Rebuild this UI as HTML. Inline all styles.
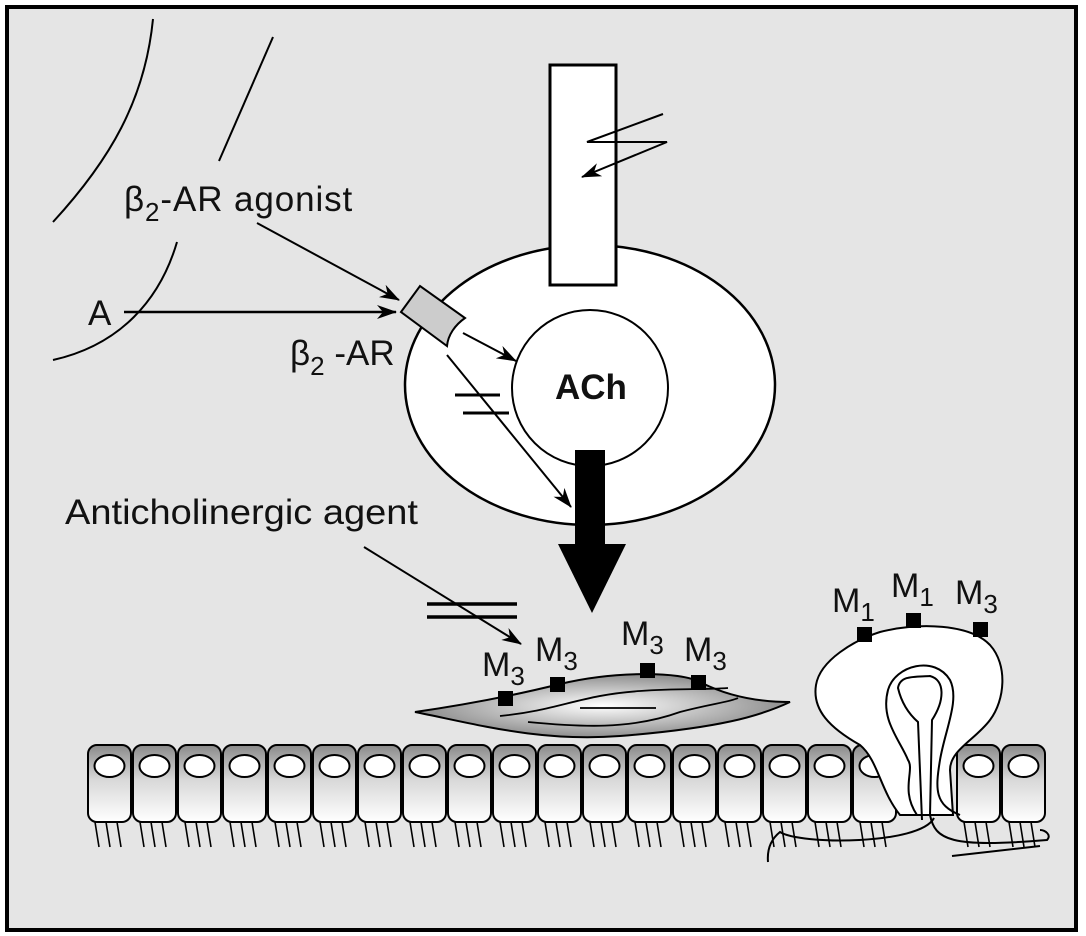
<!DOCTYPE html>
<html><head><meta charset="utf-8"><style>
html,body{margin:0;padding:0;background:#fff}
svg{display:block}
text{font-family:"Liberation Sans",sans-serif;fill:#111}
</style></head><body>
<svg width="1086" height="936" viewBox="0 0 1086 936" xmlns="http://www.w3.org/2000/svg">
<defs>
<linearGradient id="cg" x1="0" y1="0" x2="0" y2="1">
<stop offset="0" stop-color="#8a8a8a"/><stop offset="0.45" stop-color="#d8d8d8"/><stop offset="1" stop-color="#ffffff"/>
</linearGradient>
<radialGradient id="mg" cx="0.5" cy="0.5" r="0.6">
<stop offset="0" stop-color="#ffffff"/><stop offset="1" stop-color="#777"/>
</radialGradient>
<marker id="ah" markerWidth="20" markerHeight="14" refX="19" refY="7" orient="auto" markerUnits="userSpaceOnUse">
<path d="M0,0 L20,7 L0,14 L6,7 Z" fill="#000"/>
</marker>
<g id="cell">
<rect x="1" y="0" width="43" height="77" rx="9" fill="url(#cg)" stroke="#000" stroke-width="2"/>
<ellipse cx="22.5" cy="21" rx="15" ry="11" fill="#fff" stroke="#000" stroke-width="2"/>
<path d="M8,77 L12,102 M19,77 L23,102 M30,77 L34,102" stroke="#000" stroke-width="1.6" fill="none"/>
</g>
</defs>
<rect x="7" y="7" width="1069" height="923" fill="#e5e5e5" stroke="#000" stroke-width="4"/>

<path d="M153,19 C145,100 110,160 53,222" fill="none" stroke="#000" stroke-width="2"/>
<path d="M273,37 L219,161" fill="none" stroke="#000" stroke-width="2"/>
<path d="M177,242 C160,300 120,345 53,360" fill="none" stroke="#000" stroke-width="2"/>

<ellipse cx="590" cy="385" rx="185" ry="140" fill="#fff" stroke="#000" stroke-width="2.5"/>
<circle cx="590" cy="388" r="78" fill="#fff" stroke="#000" stroke-width="2"/>
<text x="555" y="399" font-size="35" font-weight="bold">ACh</text>

<rect x="550" y="65" width="66" height="220" fill="#fff" stroke="#000" stroke-width="3"/>
<polyline points="663,114 587,142 667,142 582,177" fill="none" stroke="#000" stroke-width="2" marker-end="url(#ah)"/>

<rect x="575" y="450" width="30" height="96" fill="#000"/>
<polygon points="558,544 626,544 592,613" fill="#000"/>

<path d="M401,312 L420,286 L465,318 C455,325 448,335 447,346 Z" fill="#ccc" stroke="#000" stroke-width="2"/>

<line x1="257" y1="223" x2="399" y2="300" stroke="#000" stroke-width="2" marker-end="url(#ah)"/>
<line x1="124" y1="312" x2="396" y2="312" stroke="#000" stroke-width="2.5" marker-end="url(#ah)"/>
<line x1="463" y1="333" x2="516" y2="361" stroke="#000" stroke-width="2" marker-end="url(#ah)"/>
<line x1="447" y1="355" x2="571" y2="507" stroke="#000" stroke-width="2" marker-end="url(#ah)"/>
<line x1="455" y1="395" x2="500" y2="395" stroke="#000" stroke-width="3"/>
<line x1="463" y1="413" x2="509" y2="413" stroke="#000" stroke-width="3"/>
<line x1="364" y1="547" x2="521" y2="644" stroke="#000" stroke-width="2" marker-end="url(#ah)"/>
<line x1="427" y1="604" x2="517" y2="604" stroke="#000" stroke-width="3.5"/>
<line x1="427" y1="617" x2="517" y2="617" stroke="#000" stroke-width="3.5"/>

<text x="124" y="211" font-size="35" letter-spacing="0.9">β<tspan font-size="26" dy="10">2</tspan><tspan dy="-10">-AR agonist</tspan></text>
<text x="88" y="325" font-size="35">A</text>
<text x="290" y="365" font-size="35">β<tspan font-size="26" dy="10">2</tspan><tspan dy="-10"> -AR</tspan></text>
<text x="65" y="524" font-size="35" textLength="353" lengthAdjust="spacingAndGlyphs">Anticholinergic agent</text>

<use href="#cell" x="87" y="745"/><use href="#cell" x="132" y="745"/><use href="#cell" x="177" y="745"/>
<use href="#cell" x="222" y="745"/><use href="#cell" x="267" y="745"/><use href="#cell" x="312" y="745"/>
<use href="#cell" x="357" y="745"/><use href="#cell" x="402" y="745"/><use href="#cell" x="447" y="745"/>
<use href="#cell" x="492" y="745"/><use href="#cell" x="537" y="745"/><use href="#cell" x="582" y="745"/>
<use href="#cell" x="627" y="745"/><use href="#cell" x="672" y="745"/><use href="#cell" x="717" y="745"/>
<use href="#cell" x="762" y="745"/><use href="#cell" x="807" y="745"/><use href="#cell" x="852" y="745"/>
<use href="#cell" x="956" y="745"/><use href="#cell" x="1001" y="745"/>

<path d="M415,712 C470,704 520,694 560,684 C610,672 680,670 702,683 C730,697 760,702 790,702 C760,716 720,728 620,736 C540,742 480,725 415,712 Z" fill="url(#mg)" stroke="#000" stroke-width="2"/>
<path d="M500,716 C560,710 580,695 640,691 C680,688 700,690 728,688" fill="none" stroke="#000" stroke-width="1.8"/>
<path d="M528,722 C580,727 630,730 680,712 C710,704 730,702 738,698" fill="none" stroke="#000" stroke-width="1.8"/>
<line x1="580" y1="708" x2="656" y2="708" stroke="#000" stroke-width="1.8"/>
<rect x="498" y="691" width="15" height="15" fill="#000"/>
<rect x="550" y="677" width="15" height="15" fill="#000"/>
<rect x="640" y="663" width="15" height="15" fill="#000"/>
<rect x="691" y="675" width="15" height="15" fill="#000"/>
<text x="482" y="676" font-size="34">M<tspan font-size="26" dy="9">3</tspan></text>
<text x="535" y="661" font-size="34">M<tspan font-size="26" dy="9">3</tspan></text>
<text x="621" y="645" font-size="34">M<tspan font-size="26" dy="9">3</tspan></text>
<text x="684" y="661" font-size="34">M<tspan font-size="26" dy="9">3</tspan></text>

<path d="M900,815 C880,790 878,760 860,745 C830,728 812,710 816,685 C820,660 855,640 880,632 C920,622 970,624 990,645 C1008,665 1005,700 990,720 C975,740 950,750 950,770 L953,815 Z" fill="#fff" stroke="#000" stroke-width="2"/>
<path d="M917,815 C900,790 915,770 908,760 C900,740 880,720 888,690 C895,665 935,655 950,680 C960,700 945,730 940,760 C935,790 935,805 960,815" fill="none" stroke="#000" stroke-width="2"/>
<path d="M922,820 L918,722 C910,715 902,705 898,688 C900,675 915,677 930,676 C945,680 945,700 932,720 L930,815 C935,840 950,848 1047,840 C1052,835 1045,830 1040,830" fill="none" stroke="#000" stroke-width="2"/>
<path d="M934,818 C920,845 800,845 780,832 C770,840 767,850 768,862" fill="none" stroke="#000" stroke-width="2"/>
<line x1="952" y1="856" x2="1040" y2="846" stroke="#000" stroke-width="2"/>
<rect x="857" y="627" width="15" height="15" fill="#000"/>
<rect x="906" y="613" width="15" height="15" fill="#000"/>
<rect x="973" y="622" width="15" height="15" fill="#000"/>
<text x="832" y="612" font-size="34">M<tspan font-size="26" dy="9">1</tspan></text>
<text x="891" y="597" font-size="34">M<tspan font-size="26" dy="9">1</tspan></text>
<text x="955" y="604" font-size="34">M<tspan font-size="26" dy="9">3</tspan></text>
</svg>
</body></html>
